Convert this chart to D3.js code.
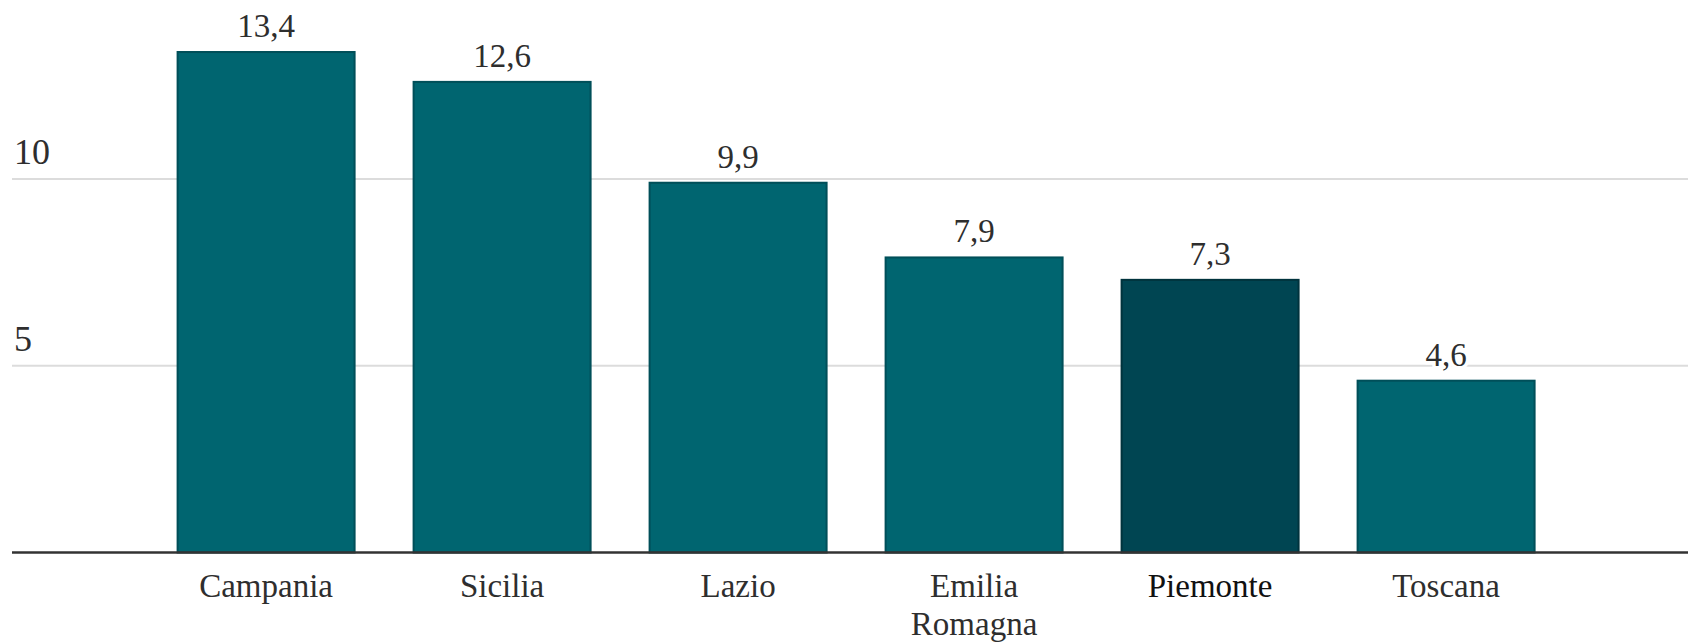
<!DOCTYPE html>
<html>
<head>
<meta charset="utf-8">
<script src="https://cdn.jsdelivr.net/npm/d3@7"></script>
<style>
  html, body { margin: 0; padding: 0; background: #fff; }
  svg { display: block; }
  text { font-family: "Liberation Serif", "DejaVu Serif", serif; }
</style>
</head>
<body>
<svg id="chart" width="1688" height="643"></svg>
<script>
// Regions and their values
const regions = ["Campania", "Sicilia", "Lazio", "Emilia Romagna", "Piemonte", "Toscana"];
const values = [13.4, 12.6, 9.9, 7.9, 7.3, 4.6];
const highlighted = ["Piemonte"];
const yTicks = [5, 10];

const W = 1688, H = 643;
const baseY = 552.5;
const svg = d3.select("#chart");

const x = d3.scaleBand()
  .domain(regions)
  .range([118.6, 1593.6])
  .paddingInner(0.25)
  .paddingOuter(0.25);

const y = d3.scaleLinear()
  .domain([0, 15])
  .range([baseY, baseY - 15 * 37.35]);

const fmt = v => d3.format(".1f")(v).replace(".", ",");

// horizontal gridlines with their labels above
const grid = svg.append("g");
grid.selectAll("line").data(yTicks).join("line")
  .attr("x1", 12).attr("x2", W)
  .attr("y1", d => y(d)).attr("y2", d => y(d))
  .attr("stroke", "#dcdcdc").attr("stroke-width", 2);
grid.selectAll("text").data(yTicks).join("text")
  .attr("x", 14).attr("y", d => y(d) - 15)
  .attr("font-size", 36).attr("fill", "#2e2e2e")
  .text(d => d);

// bars
const data = regions.map((r, i) => ({ region: r, value: values[i] }));
svg.append("g").selectAll("rect").data(data).join("rect")
  .attr("x", d => x(d.region))
  .attr("y", d => y(d.value))
  .attr("width", x.bandwidth())
  .attr("height", d => baseY - y(d.value))
  .attr("fill", d => highlighted.includes(d.region) ? "#004552" : "#006570")
  .attr("stroke", d => highlighted.includes(d.region) ? "#00333d" : "#004f59")
  .attr("stroke-width", 2);

// value labels with a white halo
svg.append("g").selectAll("text").data(data).join("text")
  .attr("x", d => x(d.region) + x.bandwidth() / 2)
  .attr("y", d => y(d.value) - 15)
  .attr("text-anchor", "middle")
  .attr("font-size", 33)
  .attr("fill", "#2e2e2e")
  .attr("stroke", "#fff").attr("stroke-width", 7)
  .attr("paint-order", "stroke")
  .attr("stroke-linejoin", "round")
  .text(d => fmt(d.value));

// baseline
svg.append("line")
  .attr("x1", 12).attr("x2", W)
  .attr("y1", baseY).attr("y2", baseY)
  .attr("stroke", "#333").attr("stroke-width", 2.5);

// category labels, wrapped on spaces
const cat = svg.append("g").selectAll("text").data(regions).join("text")
  .attr("x", d => x(d) + x.bandwidth() / 2)
  .attr("y", 597)
  .attr("text-anchor", "middle")
  .attr("font-size", 33)
  .attr("fill", d => highlighted.includes(d) ? "#111" : "#2e2e2e");
cat.each(function(d) {
  const words = d.split(" ");
  const t = d3.select(this);
  words.forEach((w, i) => {
    t.append("tspan")
      .attr("x", x(d) + x.bandwidth() / 2)
      .attr("dy", i === 0 ? 0 : 38)
      .text(w);
  });
});
</script>
</body>
</html>
